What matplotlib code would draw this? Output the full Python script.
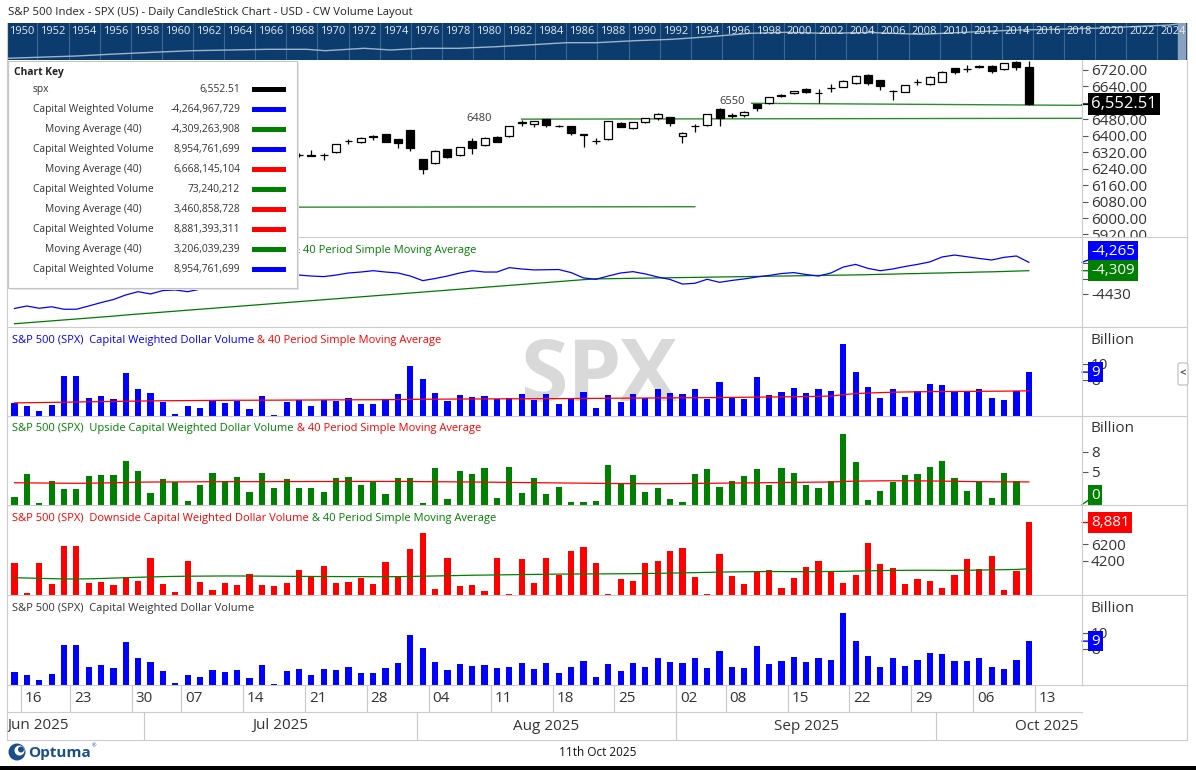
import matplotlib
matplotlib.use("Agg")
import matplotlib.pyplot as plt
from matplotlib.patches import Rectangle, Circle, FancyBboxPatch
from matplotlib.transforms import Bbox

plt.rcParams["font.family"] = ["Open Sans", "DejaVu Sans"]

W, H = 1196, 770

# ---- data ----
opens = [6000, 6004, 6012, 5987, 5999, 5970, 6062, 6105, 6112, 6151,
         6194, 6187, 6192, 6245, 6259, 6235, 6245, 6266, 6255, 6255,
         6280, 6253, 6268, 6307, 6304, 6306, 6323, 6374, 6368, 6397,
         6407, 6384, 6427, 6285, 6266, 6334, 6307, 6375, 6354, 6392,
         6397, 6463, 6456, 6480, 6449, 6448, 6408, 6376, 6383, 6464,
         6436, 6465, 6485, 6490, 6401, 6448, 6452, 6530, 6497, 6501,
         6553, 6558, 6594, 6607, 6628, 6608, 6630, 6639, 6655, 6696,
         6671, 6619, 6615, 6662, 6650, 6663, 6728, 6724, 6737, 6741,
         6725, 6761, 6736]
highs = [6026, 6050, 6023, 6018, 6018, 6026, 6101, 6108, 6146, 6188,
         6215, 6211, 6227, 6285, 6263, 6242, 6265, 6290, 6269, 6274,
         6285, 6266, 6299, 6316, 6332, 6318, 6360, 6384, 6393, 6402,
         6410, 6386, 6430, 6287, 6330, 6338, 6347, 6388, 6393, 6398,
         6448, 6477, 6474, 6484, 6452, 6450, 6409, 6388, 6472, 6466,
         6467, 6487, 6509, 6493, 6417, 6457, 6507, 6533, 6509, 6520,
         6555, 6591, 6602, 6620, 6630, 6628, 6650, 6669, 6695, 6700,
         6673, 6621, 6647, 6676, 6690, 6714, 6730, 6744, 6744, 6743,
         6754, 6763, 6764]
lows = [5963, 6004, 5974, 5971, 5952, 5944, 6058, 6080, 6097, 6136,
        6174, 6177, 6188, 6244, 6201, 6217, 6236, 6258, 6244, 6250,
        6243, 6216, 6259, 6297, 6303, 6282, 6318, 6362, 6365, 6380,
        6369, 6339, 6328, 6213, 6264, 6292, 6303, 6313, 6352, 6368,
        6392, 6449, 6444, 6443, 6444, 6404, 6347, 6362, 6380, 6441,
        6433, 6463, 6477, 6449, 6363, 6420, 6448, 6448, 6485, 6493,
        6522, 6555, 6588, 6605, 6606, 6558, 6615, 6636, 6652, 6647,
        6623, 6574, 6612, 6647, 6648, 6660, 6699, 6709, 6730, 6704,
        6722, 6720, 6551]
closes = [5977, 6033, 5982, 5981, 5967, 6025, 6092, 6092, 6141, 6173,
          6205, 6198, 6227, 6279, 6230, 6226, 6263, 6280, 6259, 6269,
          6244, 6264, 6297, 6306, 6305, 6308, 6358, 6376, 6391, 6395,
          6371, 6367, 6342, 6237, 6328, 6298, 6345, 6342, 6391, 6371,
          6446, 6466, 6472, 6452, 6448, 6415, 6406, 6374, 6470, 6443,
          6465, 6485, 6504, 6464, 6415, 6450, 6504, 6488, 6499, 6514,
          6533, 6589, 6596, 6618, 6611, 6606, 6632, 6666, 6692, 6655,
          6642, 6617, 6645, 6664, 6688, 6712, 6712, 6726, 6736, 6715,
          6752, 6736, 6552.51]

# drawn support lines: (start day, start price, end day, end price)
support_lines = [(10, 6052, 55, 6055), (41, 6481, 86.3, 6485), (59.6, 6558, 86.3, 6548)]
line_labels = [("6480", 37.6, 6483), ("6550", 58.0, 6568)]

cw_line = [-4507, -4494, -4506, -4498, -4511, -4511, -4494, -4476, -4460, -4436,
           -4419, -4431, -4413, -4410, -4419, -4406, -4400, -4394, -4389, -4384,
           -4379, -4363, -4347, -4332, -4337, -4340, -4332, -4321, -4316, -4309,
           -4316, -4321, -4337, -4361, -4350, -4337, -4321, -4309, -4316, -4316,
           -4293, -4300, -4305, -4304, -4303, -4319, -4347, -4354, -4337, -4321,
           -4314, -4326, -4342, -4355, -4379, -4375, -4354, -4370, -4360, -4352,
           -4342, -4334, -4324, -4319, -4329, -4337, -4321, -4290, -4276, -4297,
           -4309, -4300, -4287, -4276, -4263, -4237, -4227, -4236, -4245, -4253,
           -4239, -4232, -4265]
cw_ma = [-4587, -4582, -4577, -4572, -4567, -4562, -4557, -4552, -4547, -4541,
         -4536, -4531, -4526, -4521, -4516, -4511, -4506, -4501, -4496, -4491,
         -4486, -4481, -4476, -4471, -4466, -4461, -4456, -4451, -4446, -4441,
         -4436, -4431, -4426, -4421, -4416, -4411, -4406, -4401, -4396, -4391,
         -4386, -4381, -4376, -4371, -4366, -4361, -4356, -4352, -4351, -4350,
         -4349, -4348, -4347, -4346, -4345, -4344, -4343, -4342, -4341, -4340,
         -4339, -4338, -4337, -4336, -4335, -4334, -4333, -4332, -4331, -4330,
         -4328, -4327, -4325, -4324, -4322, -4321, -4319, -4318, -4316, -4315,
         -4313, -4311, -4309]

# billions
cw_vol = [5.22, 4.82, 4.21, 4.94, 8.48, 8.48, 5.83, 6.04, 5.71, 8.88,
          6.93, 6.44, 5.31, 3.84, 4.82, 4.61, 5.43, 5.22, 5.43, 4.49,
          6.04, 3.72, 5.31, 5.55, 4.82, 5.55, 5.43, 5.83, 5.06, 5.06,
          5.71, 6.32, 9.70, 8.15, 6.44, 5.43, 6.16, 5.95, 6.04, 5.71,
          5.83, 6.28, 5.55, 6.28, 5.06, 5.83, 6.53, 4.58, 6.16, 5.31,
          6.28, 5.83, 6.93, 6.44, 6.28, 6.93, 5.71, 7.75, 5.83, 5.71,
          8.36, 6.16, 6.53, 7.01, 6.44, 6.93, 6.65, 12.34, 8.97, 7.14,
          5.83, 6.93, 5.95, 6.65, 7.50, 7.38, 6.53, 6.53, 6.93, 5.83,
          5.55, 6.65, 8.95]
cw_vol_ma = [5.20, 5.22, 5.24, 5.26, 5.28, 5.31, 5.33, 5.35, 5.37, 5.40,
             5.42, 5.44, 5.46, 5.47, 5.48, 5.49, 5.50, 5.51, 5.52, 5.52,
             5.53, 5.53, 5.54, 5.55, 5.55, 5.56, 5.57, 5.57, 5.58, 5.58,
             5.59, 5.60, 5.62, 5.64, 5.65, 5.66, 5.67, 5.68, 5.68, 5.69,
             5.70, 5.70, 5.71, 5.72, 5.72, 5.73, 5.74, 5.75, 5.76, 5.77,
             5.78, 5.79, 5.80, 5.81, 5.82, 5.83, 5.84, 5.85, 5.87, 5.88,
             5.90, 5.91, 5.93, 5.95, 5.97, 6.00, 6.03, 6.20, 6.33, 6.40,
             6.45, 6.50, 6.53, 6.55, 6.57, 6.58, 6.59, 6.60, 6.61, 6.62,
             6.63, 6.65, 6.67]
up_vol = [1.20, 4.65, 0.34, 3.60, 2.40, 2.40, 4.35, 4.50, 4.50, 6.60,
          5.10, 1.84, 3.90, 3.45, 0.60, 3.00, 4.80, 3.60, 4.20, 1.95,
          4.80, 2.55, 3.90, 2.55, 2.55, 1.95, 4.05, 4.20, 3.00, 3.60,
          1.65, 4.05, 4.05, 0.30, 5.55, 0.90, 5.10, 4.65, 5.55, 1.05,
          5.70, 1.80, 4.05, 1.65, 2.70, 0.45, 0.45, 0.60, 6.00, 3.30,
          4.50, 1.95, 2.55, 0.90, 0.45, 4.65, 5.40, 2.70, 3.60, 4.35,
          5.40, 3.00, 5.55, 4.80, 3.00, 2.55, 3.60, 10.64, 6.45, 0.75,
          2.10, 3.45, 4.50, 4.65, 5.70, 6.60, 4.05, 2.10, 3.60, 1.05,
          4.80, 3.60, 0.07]
up_ma = [3.34, 3.32, 3.30, 3.28, 3.26, 3.25, 3.27, 3.30, 3.34, 3.38,
         3.42, 3.44, 3.45, 3.46, 3.47, 3.48, 3.49, 3.49, 3.50, 3.50,
         3.50, 3.51, 3.51, 3.51, 3.52, 3.52, 3.52, 3.53, 3.53, 3.53,
         3.53, 3.53, 3.52, 3.50, 3.49, 3.48, 3.46, 3.45, 3.43, 3.41,
         3.39, 3.37, 3.35, 3.33, 3.31, 3.29, 3.27, 3.25, 3.23, 3.21,
         3.20, 3.19, 3.19, 3.20, 3.21, 3.23, 3.25, 3.27, 3.29, 3.31,
         3.33, 3.35, 3.37, 3.39, 3.41, 3.43, 3.45, 3.52, 3.58, 3.60,
         3.62, 3.63, 3.63, 3.62, 3.60, 3.58, 3.55, 3.52, 3.50, 3.48,
         3.47, 3.47, 3.46]
down_vol = [3.95, 0.24, 3.95, 1.35, 6.00, 6.00, 1.47, 1.59, 1.22, 2.24,
            1.71, 4.53, 1.35, 0.37, 4.16, 1.59, 0.61, 1.47, 1.22, 2.57,
            1.22, 1.10, 1.47, 3.06, 2.24, 3.55, 1.47, 1.59, 2.08, 1.35,
            4.04, 2.20, 5.63, 7.59, 0.73, 4.53, 1.10, 1.22, 0.49, 4.53,
            0.12, 4.41, 1.47, 4.53, 2.41, 5.39, 5.88, 3.92, 0.12, 1.96,
            1.71, 3.92, 4.16, 5.39, 5.75, 2.20, 0.12, 5.02, 2.33, 1.35,
            2.94, 3.06, 0.86, 2.08, 3.43, 4.16, 2.94, 1.47, 2.45, 6.36,
            3.79, 3.30, 1.35, 1.96, 1.71, 0.86, 2.45, 4.41, 3.18, 4.77,
            0.61, 2.94, 8.88]
down_ma = [2.12, 2.08, 2.04, 2.00, 1.97, 1.96, 1.98, 2.02, 2.07, 2.12,
           2.17, 2.21, 2.25, 2.28, 2.30, 2.31, 2.32, 2.33, 2.33, 2.32,
           2.31, 2.30, 2.29, 2.28, 2.27, 2.26, 2.26, 2.25, 2.25, 2.24,
           2.24, 2.25, 2.27, 2.30, 2.33, 2.36, 2.39, 2.42, 2.44, 2.46,
           2.48, 2.50, 2.52, 2.54, 2.56, 2.57, 2.58, 2.58, 2.59, 2.60,
           2.61, 2.63, 2.65, 2.68, 2.71, 2.74, 2.77, 2.80, 2.83, 2.85,
           2.86, 2.87, 2.87, 2.86, 2.86, 2.87, 2.88, 2.90, 2.93, 2.96,
           2.99, 3.01, 3.02, 3.03, 3.03, 3.02, 3.02, 3.03, 3.05, 3.08,
           3.10, 3.13, 3.21]

# date axis: first trading day of each week / month (day index)
week_start = [1, 5, 10, 14, 19, 24, 29, 34, 39, 44, 49, 54, 58, 63, 68, 73, 78, 83]
week_labels = ["16", "23", "30", "07", "14", "21", "28", "04", "11", "18",
               "25", "02", "08", "15", "22", "29", "06", "13"]
month_start = [11, 33, 54, 75]
month_labels = ["Jun 2025", "Jul 2025", "Aug 2025", "Sep 2025", "Oct 2025"]

# overview strip (1950-2024), relative level read from the strip
nav_years = [1949.0, 1951.0, 1953.5, 1956.0, 1958.4, 1960.9, 1963.4, 1965.8, 1968.3,
             1969.5, 1972.0, 1973.7, 1975.7, 1978.1, 1980.5, 1982.5, 1985.0, 1986.9,
             1989.4, 1991.8, 1994.2, 1996.8, 1999.2, 2001.6, 2004.5, 2007.8, 2011.5,
             2014.0, 2016.4, 2018.9, 2021.3, 2023.8, 2024.3]
nav_level = [1.7, 2.7, 4.0, 6.0, 7.7, 9.3, 10.0, 10.7, 10.7, 9.3, 11.7, 10.0, 11.7,
             11.7, 13.3, 15.0, 17.3, 17.3, 19.3, 20.7, 23.3, 26.7, 27.7, 26.7, 27.5,
             25.7, 28.3, 30.0, 30.7, 31.7, 33.3, 35.0, 36.0]

key_labels = ["spx", "Capital Weighted Volume", "Moving Average (40)",
              "Capital Weighted Volume", "Moving Average (40)", "Capital Weighted Volume",
              "Moving Average (40)", "Capital Weighted Volume", "Moving Average (40)",
              "Capital Weighted Volume"]
key_values = ["6,552.51", "-4,264,967,729", "-4,309,263,908", "8,954,761,699",
              "6,668,145,104", "73,240,212", "3,460,858,728", "8,881,393,311",
              "3,206,039,239", "8,954,761,699"]
key_colors = ["black", "#0000ff", "#008000", "#0000ff", "#ff0000", "#008000",
              "#ff0000", "#ff0000", "#008000", "#0000ff"]

BLUE, GREEN, RED = "#0000ff", "#008000", "#ff0000"
n = len(closes)
days = list(range(n))
for arr in (opens, highs, lows, cw_line, cw_ma, cw_vol, cw_vol_ma, up_vol, up_ma, down_vol, down_ma):
    assert len(arr) == n, len(arr)

XL = (-0.606, 86.3)
fig = plt.figure(figsize=(W / 100, H / 100), dpi=100)


def place(x0, y0, x1, y1, **kw):
    return fig.add_axes([x0 / W, 1 - y1 / H, (x1 - x0) / W, (y1 - y0) / H], **kw)


def panel(y0, y1, ylim):
    ax = place(7, y0, 1082, y1)
    ax.set_xlim(XL)
    ax.set_ylim(*ylim)
    ax.set_facecolor("none")
    for s in ax.spines.values():
        s.set_visible(False)
    ax.set_xticks([])
    ax.yaxis.tick_right()
    ax.tick_params(axis="y", direction="out", length=4.5, width=0.8, colors="#555555",
                   labelsize=11, labelcolor="#333333", pad=2)
    return ax


def tag(ax, value, text, color, dy=0, size=11):
    ax.annotate(text, xy=(1, value), xycoords=("axes fraction", "data"),
                xytext=(6.5, dy), textcoords="offset points", ha="left", va="center",
                fontsize=size, color="white", zorder=10, annotation_clip=False,
                bbox=dict(boxstyle="square,pad=0.18", fc=color, ec="none"),
                arrowprops=dict(arrowstyle="-", color=color, lw=1, shrinkA=0, shrinkB=0))


# ---- overview strip ----
nav = place(7, 23, 1187, 60)
nav.set_facecolor("#0b3c6d")
nav.set_xlim(1949.04, 2024.9)
nav.set_ylim(0, 37)
nav.set_xticks([]); nav.set_yticks([])
for s in nav.spines.values():
    s.set_visible(False)
for yr in range(1951, 2025, 2):
    nav.axvline(yr, color="#3f6794", lw=0.8)
for yr in range(1950, 2025, 2):
    nav.text(yr, 28.3, str(yr), color="#e4eaf1", fontsize=8, ha="center", va="center")
nav.plot(nav_years, nav_level, color="#9fb4ca", lw=1)
nav.axvspan(2024.3, 2024.75, color="#8ba2bf")

# ---- price panel ----
ax_p = panel(60, 237, (5907.7, 6768.6))
for i in days:
    o, hi, lo, c = opens[i], highs[i], lows[i], closes[i]
    ax_p.vlines(i, lo, hi, color="black", lw=0.9, zorder=2)
    b0, b1 = min(o, c), max(o, c)
    ax_p.add_patch(Rectangle((i - 0.32, b0), 0.64, max(b1 - b0, 0.8),
                             fc="black" if c < o else "white", ec="black", lw=0.9, zorder=3))
for x0, p0, x1, p1 in support_lines:
    ax_p.plot([x0, x1], [p0, p1], color="#2e8b2e", lw=1.0, zorder=1)
for txt, xl, yl in line_labels:
    ax_p.text(xl, yl, txt, fontsize=8, color="#3a3a3a", ha="center", va="center")
pt = list(range(5920, 6721, 80))
ax_p.set_yticks(pt)
# the 6560 label sits under the last-price tag
ax_p.set_yticklabels(["" if v == 6560 else f"{v:.2f}" for v in pt])
clip = Bbox.from_extents(1082, H - 237, W, H - 60)
for t in ax_p.get_yticklabels():
    t.set_clip_box(clip)
    t.set_clip_on(True)
tag(ax_p, closes[-1], "6,552.51", "black", size=12)

# ---- capital weighted volume line ----
ax_c = panel(237, 327, (-4604, -4132.5))
ax_c.plot(days, cw_ma, color="#007a00", lw=0.9)
ax_c.plot(days, cw_line, color=BLUE, lw=0.9)
ax_c.set_yticks([-4430, -4350, -4270])
ax_c.set_yticklabels(["-4430", "", ""])
tag(ax_c, cw_line[-1], "-4,265", BLUE, dy=8)
tag(ax_c, cw_ma[-1], "-4,309", GREEN)

# ---- capital weighted dollar volume ----
ax_v = panel(327, 416, (3.6, 14.45))
ax_v.text(0.55, 0.42, "SPX", transform=ax_v.transAxes, fontsize=62, fontweight="bold",
          color="#d9d9d9", ha="center", va="center", zorder=0)
ax_v.bar(days, cw_vol, width=0.5, color=BLUE, zorder=2)
ax_v.plot(days, cw_vol_ma, color=RED, lw=0.9, zorder=3)
ax_v.set_yticks([8, 10])
tag(ax_v, cw_vol[-1], "9", BLUE)

# ---- upside ----
ax_u = panel(416, 505, (0, 13.34))
ax_u.bar(days, up_vol, width=0.5, color=GREEN, zorder=2)
ax_u.plot(days, up_ma, color=RED, lw=0.9, zorder=3)
ax_u.set_yticks([5, 8])
tag(ax_u, up_vol[-1], "0", GREEN, dy=6.5)

# ---- downside ----
ax_d = panel(505, 595, (0, 11.02))
ax_d.bar(days, down_vol, width=0.5, color=RED, zorder=2)
ax_d.plot(days, down_ma, color=GREEN, lw=0.9, zorder=3)
ax_d.set_yticks([4.2, 6.2])
ax_d.set_yticklabels(["4200", "6200"])
tag(ax_d, down_vol[-1], "8,881", RED)

# ---- capital weighted dollar volume (plain) ----
ax_v2 = panel(595, 685, (3.6, 14.58))
ax_v2.bar(days, cw_vol, width=0.5, color=BLUE, zorder=2)
ax_v2.set_yticks([8, 10])
tag(ax_v2, cw_vol[-1], "9", BLUE)

# ---- date axis ----
ax_x = place(7, 685, 1082, 740)
ax_x.set_xlim(XL)
ax_x.set_ylim(740, 685)
ax_x.axis("off")
ax_x.vlines([d - 0.5 for d in week_start], 685, 712, color="#c8c8c8", lw=0.8)
for d, lbl in zip(week_start, week_labels):
    ax_x.text(d - 0.2, 698.5, lbl, fontsize=11, color="#333333", ha="left", va="center")
ax_x.vlines([d - 0.5 for d in month_start], 712, 740, color="#c8c8c8", lw=0.8)
bounds = [XL[0]] + [d - 0.5 for d in month_start] + [XL[1]]
for k, lbl in enumerate(month_labels):
    if k == 0:
        ax_x.text(XL[0] + 0.05, 726, lbl, fontsize=11, color="#333333", ha="left", va="center")
    elif k == len(month_labels) - 1:
        ax_x.text(XL[1] - 0.3, 726, lbl, fontsize=11, color="#333333", ha="right", va="center")
    else:
        ax_x.text((bounds[k] + bounds[k + 1]) / 2, 726, lbl, fontsize=11, color="#333333",
                  ha="center", va="center")

# ---- overlay: frame, titles, key, footer (pixel coords) ----
top = fig.add_axes([0, 0, 1, 1], zorder=20)
top.set_xlim(0, W)
top.set_ylim(H, 0)
top.axis("off")
r = fig.canvas.get_renderer()

GRID = "#cccccc"
for y in (237, 327, 416, 505, 595, 685, 740):
    top.plot([7, 1187], [y, y], color=GRID, lw=0.8, zorder=1)
top.plot([7, 1082], [712, 712], color=GRID, lw=0.8, zorder=1)
top.plot([7, 7], [23, 740], color=GRID, lw=0.8, zorder=1)
top.plot([1187, 1187], [23, 740], color=GRID, lw=0.8, zorder=1)
top.plot([1082, 1082], [60, 685], color=GRID, lw=0.8, zorder=1)

top.text(8, 12, "S&P 500 Index - SPX (US) - Daily CandleStick Chart - USD - CW Volume Layout",
         fontsize=8.2, color="#222222", ha="left", va="center")


def multicolor(x, y, parts, size=8.0):
    for s, c in parts:
        t = top.text(x, y, s, color=c, fontsize=size, ha="left", va="center", zorder=2)
        x += t.get_window_extent(renderer=r).width


# the start of this title sits under the chart key; only its tail shows
top.text(476, 250, "& 40 Period Simple Moving Average", color=GREEN, fontsize=8.0,
         ha="right", va="center", zorder=2)
multicolor(12, 340, [("S&P 500 (SPX)  Capital Weighted Dollar Volume", BLUE),
                     (" & 40 Period Simple Moving Average", RED)])
multicolor(12, 429, [("S&P 500 (SPX)  Upside Capital Weighted Dollar Volume", GREEN),
                     (" & 40 Period Simple Moving Average", RED)])
multicolor(12, 519, [("S&P 500 (SPX)  Downside Capital Weighted Dollar Volume", RED),
                     (" & 40 Period Simple Moving Average", GREEN)])
multicolor(12, 608, [("S&P 500 (SPX)  Capital Weighted Dollar Volume", "#333333")])
for y in (340, 429, 608):
    top.text(1090, y, "Billion", fontsize=11, color="#333333", ha="left", va="center")

# scroll tab
top.add_patch(FancyBboxPatch((1178, 363), 10, 22, boxstyle="round,pad=0,rounding_size=2",
                             fc="white", ec="#bbbbbb", lw=0.8, zorder=3))
top.text(1183, 374, "<", fontsize=8, color="#555555", ha="center", va="center",
         fontweight="bold", zorder=4)

# chart key
top.add_patch(Rectangle((10, 63), 289, 227, fc="#e6e6e6", ec="none", zorder=5))
top.add_patch(Rectangle((8, 61), 289, 227, fc="white", ec="#c4c4c4", lw=0.8, zorder=6))
top.text(14, 72, "Chart Key", fontsize=7.4, fontweight="bold", color="#222222",
         ha="left", va="center", zorder=7)
for k, (lbl, val, col) in enumerate(zip(key_labels, key_values, key_colors)):
    y = 89.5 + 20 * k
    top.text(45 if lbl.startswith("Moving") else 33, y, lbl, fontsize=7.4, color="#333333",
             ha="left", va="center", zorder=7)
    top.text(240, y, val, fontsize=7.4, color="#333333", ha="right", va="center", zorder=7)
    top.add_patch(Rectangle((252, y - 2.5), 34, 5, fc=col, ec="none", zorder=7))

# footer
top.add_patch(Circle((17, 752), 8.5, fc="#1b4f8a", ec="none", zorder=3))
top.add_patch(Circle((19.5, 750.5), 5, fc="white", ec="none", zorder=4))
top.add_patch(Circle((21, 749.5), 3, fc="#1b4f8a", ec="none", zorder=5))
t_opt = top.text(28, 753, "Optuma", fontsize=11, fontweight="bold", color="#1b4f8a",
                 ha="left", va="center", zorder=3)
x_end = 28 + t_opt.get_window_extent(renderer=r).width
top.text(x_end + 1, 746, "®", fontsize=4, color="#1b4f8a", ha="left", va="center", zorder=3)
top.text(598, 752, "11th Oct 2025", fontsize=8.5, color="#111111", ha="center", va="center")
top.add_patch(Rectangle((0, 766), W, 4, fc="black", ec="none", zorder=3))

fig.savefig("out.png", dpi=100, facecolor="white")
